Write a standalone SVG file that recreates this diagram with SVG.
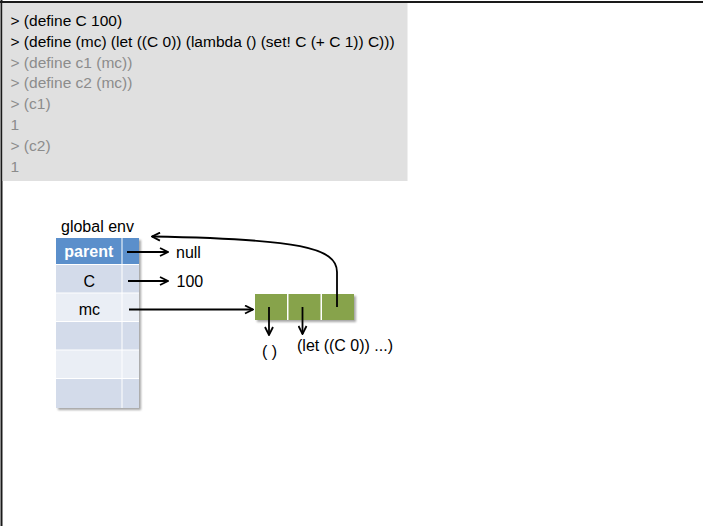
<svg xmlns="http://www.w3.org/2000/svg" width="703" height="526" viewBox="0 0 703 526">
<style>
text{font-family:"Liberation Sans",Arial,sans-serif;}
.code{font-size:15.5px;}
.dark{fill:#000;}
.grey{fill:#8c8c8c;}
.lbl{font-size:16px;fill:#000;}
.conn{fill:none;stroke:#000;stroke-width:1.8;}
.hdr{fill:#5b8fcb;}
.r1{fill:#d3dbea;}
.r2{fill:#eaeef5;}
.cell{fill:#87a34b;}
</style>
<defs>
<marker id="ah" viewBox="0 0 10 10" refX="9" refY="5" markerWidth="10" markerHeight="10" markerUnits="userSpaceOnUse" orient="auto">
<path d="M1,1 L9,5 L1,9" fill="none" stroke="#000" stroke-width="1.8"/>
</marker>
<filter id="sh" x="-10%" y="-10%" width="130%" height="130%">
<feDropShadow dx="2" dy="2" stdDeviation="1.3" flood-color="#000" flood-opacity="0.35"/>
</filter>
</defs>
<rect width="703" height="526" fill="#fff"/>
<g id="frame">
<line x1="0" y1="2" x2="703" y2="2" stroke="#1a1a1a" stroke-width="2"/>
<line x1="1.5" y1="0" x2="1.5" y2="526" stroke="#1a1a1a" stroke-width="2"/>
</g>
<g id="code">
<rect x="2.5" y="3" width="405" height="178" fill="#e0e0e0"/>
<text class="code dark" x="10.5" y="26">&gt; (define C 100)</text>
<text class="code dark" x="10.5" y="46.8">&gt; (define (mc) (let ((C 0)) (lambda () (set! C (+ C 1)) C)))</text>
<text class="code grey" x="10.5" y="67.6">&gt; (define c1 (mc))</text>
<text class="code grey" x="10.5" y="88.4">&gt; (define c2 (mc))</text>
<text class="code grey" x="10.5" y="109.2">&gt; (c1)</text>
<text class="code grey" x="10.5" y="130">1</text>
<text class="code grey" x="10.5" y="150.8">&gt; (c2)</text>
<text class="code grey" x="10.5" y="171.6">1</text>
</g>
<g id="global-env">
<text class="lbl" x="61" y="231.7">global env</text>
<rect x="56" y="238" width="83" height="170" fill="#fff" filter="url(#sh)"/>
<rect class="hdr" x="56" y="238" width="65.5" height="26"/>
<rect class="hdr" x="122.5" y="238" width="16.5" height="26"/>
<rect class="r1" x="56" y="265" width="65.5" height="27.5"/>
<rect class="r1" x="122.5" y="265" width="16.5" height="27.5"/>
<rect class="r2" x="56" y="293.5" width="65.5" height="27.5"/>
<rect class="r2" x="122.5" y="293.5" width="16.5" height="27.5"/>
<rect class="r1" x="56" y="322" width="65.5" height="27.5"/>
<rect class="r1" x="122.5" y="322" width="16.5" height="27.5"/>
<rect class="r2" x="56" y="350.5" width="65.5" height="27.5"/>
<rect class="r2" x="122.5" y="350.5" width="16.5" height="27.5"/>
<rect class="r1" x="56" y="379" width="65.5" height="29"/>
<rect class="r1" x="122.5" y="379" width="16.5" height="29"/>
<text x="88.8" y="257" font-size="16" font-weight="bold" fill="#fff" text-anchor="middle">parent</text>
<text class="lbl" x="89.3" y="286.5" text-anchor="middle">C</text>
<text class="lbl" x="89.3" y="315" text-anchor="middle">mc</text>
</g>
<g id="values">
<text class="lbl" x="176" y="258">null</text>
<text class="lbl" x="176.5" y="287">100</text>
</g>
<g id="closure">
<rect x="255" y="294" width="99" height="26" fill="#fff" filter="url(#sh)"/>
<rect class="cell" x="255" y="294" width="32" height="26"/>
<rect class="cell" x="288.5" y="294" width="32" height="26"/>
<rect class="cell" x="322" y="294" width="32" height="26"/>
</g>
<g id="closure-labels">
<text class="lbl" x="262" y="357">( )</text>
<text class="lbl" x="297" y="351">(let ((C 0)) ...)</text>
</g>
<g id="connectors">
<line class="conn" x1="127" y1="252" x2="168" y2="252" marker-end="url(#ah)"/>
<line class="conn" x1="128" y1="281" x2="168" y2="281" marker-end="url(#ah)"/>
<line class="conn" x1="129" y1="309.5" x2="253" y2="309.5" marker-end="url(#ah)"/>
<line class="conn" x1="269" y1="307" x2="269" y2="335" marker-end="url(#ah)"/>
<line class="conn" x1="302.5" y1="307" x2="302.5" y2="334" marker-end="url(#ah)"/>
<path class="conn" d="M337,307 L337,272 C337,248 300,239 152,236.5" marker-end="url(#ah)"/>
</g>
</svg>
